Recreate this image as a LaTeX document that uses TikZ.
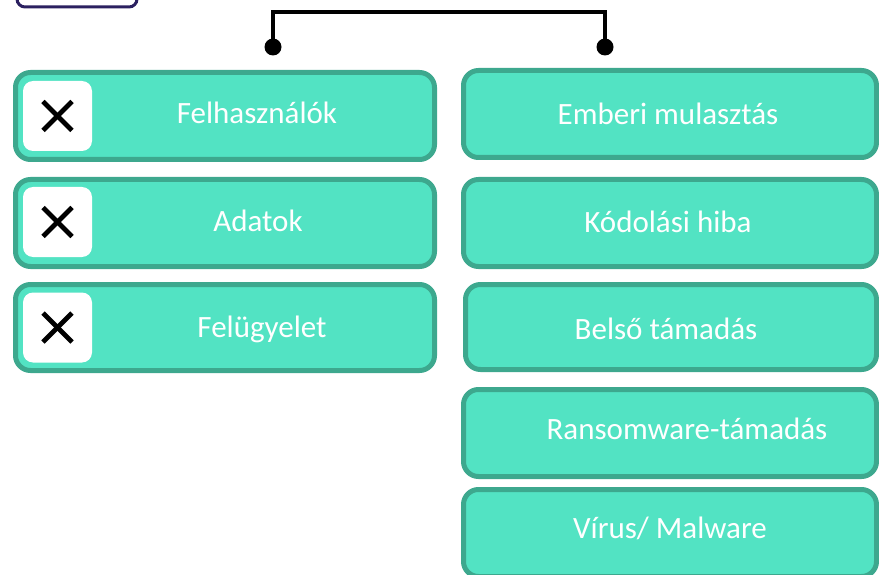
\documentclass[tikz,border=0pt]{standalone}
\usepackage{fontspec}
\setmainfont{Carlito}
\definecolor{boxfill}{HTML}{52E3C3}
\definecolor{boxline}{HTML}{3DA88E}
\definecolor{navy}{HTML}{2B2060}
\begin{document}
\begin{tikzpicture}[x=1pt,y=-1pt,
  box/.style={draw=boxline, fill=boxfill, line width=5pt, rounded corners=15pt, inner sep=0pt},
  lbl/.style={text=white, font=\fontsize{31}{36}\selectfont, inner sep=0pt, anchor=base},
  chk/.style={fill=white, rounded corners=10pt, minimum width=69pt, minimum height=70pt, inner sep=0pt},
  xmark/.style={line width=4.6pt},
  bracket/.style={line width=4pt},
  dot/.style={circle, fill=black, minimum size=17pt, inner sep=0pt}]
\clip (0,0) rectangle (879,575);
\useasboundingbox (0,0) rectangle (879,575);
% partial header box
\draw[navy, line width=3pt, rounded corners=8pt] (17,-20) rectangle (137,7);
% left boxes
\node[box, minimum width=419pt, minimum height=87pt] (l1) at (225,116) {};
\node[box, minimum width=419pt, minimum height=87pt] (l2) at (225,223) {};
\node[box, minimum width=419pt, minimum height=86pt] (l3) at (225,327.5) {};
\foreach \n/\y in {1/116, 2/222, 3/327.5}{
  \node[chk] (c\n) at (57.5,\y) {};
  \draw[xmark] ([shift={(-14.5,-14.5)}]c\n.center) -- ([shift={(14.5,14.5)}]c\n.center);
  \draw[xmark] ([shift={(-14.5,14.5)}]c\n.center) -- ([shift={(14.5,-14.5)}]c\n.center);
}
\node[lbl] (t1) at (257,124) {Felhasználók};
\node[lbl] (t2) at (258,232) {Adatok};
\node[lbl] (t3) at (262,337) {Felügyelet};
% right boxes
\node[box, minimum width=413pt, minimum height=87pt] (r1) at (670,114) {};
\node[box, minimum width=413pt, minimum height=87pt] (r2) at (670,223) {};
\node[box, minimum width=411pt, minimum height=85pt] (r3) at (671,327) {};
\node[box, minimum width=413pt, minimum height=87pt] (r4) at (670,433) {};
\node[box, minimum width=413pt, minimum height=87pt] (r5) at (670,533) {};
\node[lbl] (u1) at (668,125) {Emberi mulasztás};
\node[lbl] (u2) at (668,233) {Kódolási hiba};
\node[lbl] (u3) at (666,339) {Belső támadás};
\node[lbl] (u4) at (687,439) {Ransomware-támadás};
\node[lbl] (u5) at (670,538) {Vírus/ Malware};
% bracket
\node[dot] (d1) at (273,47) {};
\node[dot] (d2) at (605,47) {};
\draw[bracket] (d1.center) |- (439,12) -| (d2.center);
\end{tikzpicture}
\end{document}
